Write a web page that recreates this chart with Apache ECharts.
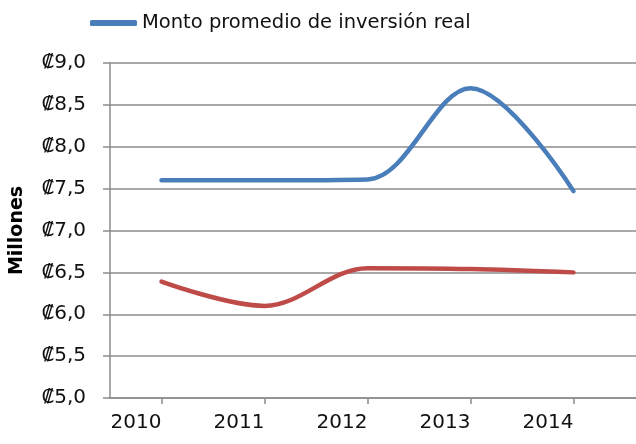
<!DOCTYPE html>
<html>
<head>
<meta charset="utf-8">
<script src="https://cdn.jsdelivr.net/npm/echarts@6/dist/echarts.min.js"></script>
<style>
  html, body { margin: 0; padding: 0; background: #fff; }
  #main { width: 636px; height: 444px; }
</style>
</head>
<body>
<div id="main"></div>
<script>
var years = ["2010", "2011", "2012", "2013", "2014"];
var montoReal = [7.6, 7.6, 7.61, 8.7, 7.47];
var serie2 = [6.39, 6.1, 6.55, 6.54, 6.5];
var yTicks = { min: 5, max: 9, interval: 0.5 };

var font = "DejaVu Sans";
var myChart = echarts.init(document.getElementById("main"));

var option = {
  backgroundColor: "#fff",
  animation: false,
  legend: {
    data: [{ name: "Monto promedio de inversión real", icon: "roundRect" }],
    top: 8,
    left: 85,
    itemWidth: 47,
    itemHeight: 6,
    itemGap: 4,
    textStyle: { fontFamily: font, fontSize: 19.5, color: "#111" },
  },
  // grid 0 = gridlines to the edge, grid 1 = the data
  grid: [
    { left: 110, right: 0, top: 63, bottom: 46 },
    { left: 110, right: 11, top: 63, bottom: 46 },
  ],
  xAxis: [
    {
      gridIndex: 0,
      type: "value",
      min: 0,
      max: 1,
      axisLine: { show: true, onZero: false, lineStyle: { color: "#8c8c8c", width: 1.5 } },
      axisTick: { show: false },
      axisLabel: { show: false },
      splitLine: { show: false },
    },
    {
      gridIndex: 1,
      type: "category",
      data: years,
      boundaryGap: true,
      axisLine: { show: false },
      axisTick: { show: true, alignWithLabel: true, length: 6, lineStyle: { color: "#8c8c8c", width: 1.5 } },
      axisLabel: {
        align: "right",
        margin: 15,
        fontFamily: font,
        fontSize: 20,
        color: "#111",
      },
    },
  ],
  yAxis: [
    {
      gridIndex: 0,
      type: "value",
      min: yTicks.min,
      max: yTicks.max,
      interval: yTicks.interval,
      name: "Millones",
      nameLocation: "middle",
      nameRotate: 90,
      nameGap: 83,
      nameTextStyle: { fontFamily: font, fontSize: 19, fontWeight: "bold", color: "#000" },
      axisLine: { show: true, lineStyle: { color: "#8c8c8c", width: 1.5 } },
      axisTick: { show: true, length: 7, lineStyle: { color: "#8c8c8c", width: 1.5 } },
      axisLabel: {
        margin: 24,
        fontFamily: font,
        fontSize: 20,
        color: "#111",
        formatter: function (v) {
          return "₡" + v.toFixed(1).replace(".", ",");
        },
      },
      splitLine: { show: true, lineStyle: { color: "#8c8c8c", width: 1.5 } },
    },
    {
      gridIndex: 1,
      type: "value",
      min: yTicks.min,
      max: yTicks.max,
      interval: yTicks.interval,
      show: false,
    },
  ],
  series: [
    {
      name: "Monto promedio de inversión real",
      type: "line",
      xAxisIndex: 1,
      yAxisIndex: 1,
      data: montoReal,
      smooth: 0.35,
      symbol: "none",
      lineStyle: { color: "#4a7ebb", width: 4.5, cap: "round" },
      itemStyle: { color: "#4a7ebb" },
    },
    {
      name: "Serie 2",
      type: "line",
      xAxisIndex: 1,
      yAxisIndex: 1,
      data: serie2,
      smooth: 0.35,
      symbol: "none",
      lineStyle: { color: "#be4b48", width: 4.5, cap: "round" },
      itemStyle: { color: "#be4b48" },
    },
  ],
};

myChart.setOption(option);
</script>
</body>
</html>
